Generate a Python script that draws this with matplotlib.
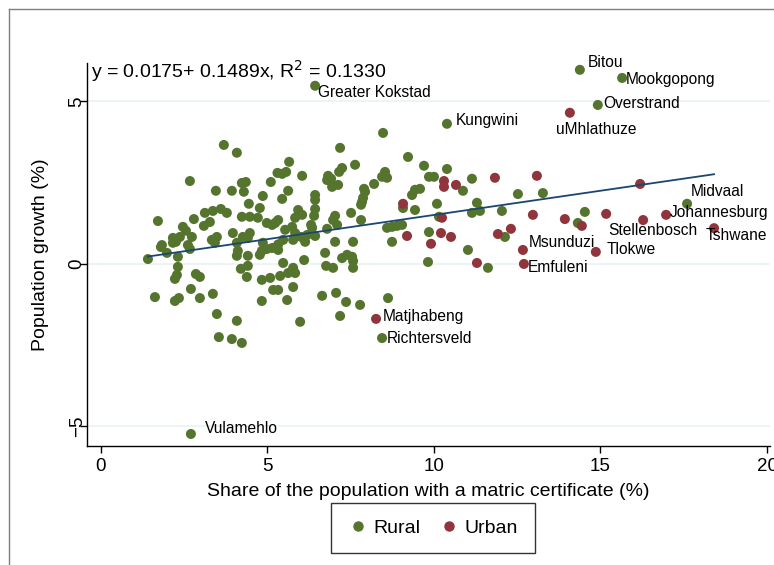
import matplotlib
matplotlib.use("Agg")
import matplotlib.pyplot as plt
from matplotlib.lines import Line2D
import numpy as np

plt.rcParams['font.family'] = ['Liberation Sans', 'DejaVu Sans']

# ---- data ----
rural_x = [3.69, 4.08, 2.67, 3.45, 3.93, 4.23, 4.35, 4.29, 5.10, 5.30, 4.86, 4.44, 4.77, 4.71, 4.47, 4.23, 4.98,
           3.12, 3.36, 3.60, 3.78, 2.79, 3.27, 3.09, 1.71, 2.46, 2.55, 2.16, 2.37, 2.73, 3.33, 3.48, 3.96, 4.26,
           4.41, 1.83,
           8.47, 7.18, 9.22, 5.65, 7.63, 5.56, 5.44, 6.04, 7.24, 7.15, 8.53, 8.44, 8.59, 6.82, 6.91, 6.79, 6.94,
           7.12, 8.20, 5.62, 5.44, 6.43, 6.43, 7.90, 7.93, 7.87, 7.84, 7.81, 9.34, 9.43, 9.07, 9.43, 7.51, 5.92,
           6.04, 5.83, 6.43, 6.40, 7.03, 6.97, 7.09, 7.81, 5.32, 5.23, 6.31, 6.34, 5.74, 5.53, 6.79, 8.59, 8.74,
           8.89, 9.04, 8.74, 5.83, 6.01, 6.19, 6.43, 7.03, 7.57, 5.77, 6.13,
           9.70, 10.39, 9.85, 10.00, 10.87, 11.14, 9.58, 10.09, 11.29, 11.14, 11.38, 12.04, 12.52, 13.27, 10.15,
           9.85, 12.13, 14.53, 14.32, 17.60, 14.38, 15.65, 14.92, 10.39, 6.43, 11.02, 9.82, 11.62, 8.44, 2.70,
           1.80, 1.98, 1.41, 2.16, 2.25, 2.61, 2.67, 2.31, 2.31, 2.28, 2.22, 2.85, 2.97, 2.70, 1.62, 2.22, 2.34,
           2.97, 3.36, 3.48, 4.08, 3.54, 3.93, 4.23, 3.42, 4.11, 4.08, 4.41, 4.20, 4.41, 4.38, 4.83, 4.98, 4.77,
           4.83, 5.08, 4.83, 5.17,
           5.32, 5.47, 5.77, 5.83, 5.62, 5.38, 5.32, 5.59, 5.77, 6.10, 6.73, 6.76, 6.97, 7.24, 7.39, 7.54, 7.57,
           7.57, 6.64, 7.06, 7.36, 7.78, 8.62, 5.98, 7.18,
           4.08, 4.47, 4.86, 5.14, 5.32, 5.47, 5.14]
rural_y = [3.66, 3.42, 2.55, 2.25, 2.25, 2.49, 2.52, 2.22, 2.52, 2.80, 2.09, 1.85, 1.72, 1.42, 1.45, 1.45, 1.26,
           1.57, 1.63, 1.69, 1.57, 1.38, 1.29, 1.17, 1.32, 1.14, 1.02, 0.80, 0.83, 0.83, 0.74, 0.83, 0.95, 0.83,
           0.80, 0.58,
           4.03, 3.57, 3.29, 3.14, 3.05, 2.83, 2.77, 2.71, 2.95, 2.83, 2.83, 2.68, 2.65, 2.71, 2.62, 2.58, 2.37,
           2.43, 2.46, 2.25, 2.00, 2.12, 1.97, 2.31, 2.22, 2.03, 1.91, 1.82, 2.12, 2.28, 1.72, 1.66, 1.57, 1.66,
           1.51, 1.42, 1.69, 1.48, 1.48, 1.35, 1.20, 1.35, 1.35, 1.26, 1.20, 1.11, 1.14, 1.05, 1.08, 1.11, 1.14,
           1.17, 1.20, 0.68, 0.95, 0.83, 0.89, 0.86, 0.68, 0.68, 0.74, 0.68,
           3.02, 2.92, 2.68, 2.68, 2.25, 2.62, 2.31, 1.85, 1.88, 1.57, 1.63, 1.63, 2.15, 2.18, 1.45,
           0.98, 0.83, 1.60, 1.26, 1.85, 5.97, 5.72, 4.89, 4.31, 5.48, 0.43, 0.06, -0.12, -2.28, -5.23,
           0.52, 0.34, 0.15, 0.65, 0.68, 0.58, 0.46, 0.22, -0.09, -0.34, -0.46, -0.31, -0.40, -0.77, -1.02, -1.14,
           -1.05, -1.05, -0.92, -1.54, -1.75, -2.25, -2.31, -2.43, 0.65, 0.40, 0.25, 0.25, -0.15, -0.06, -0.40,
           0.40, 0.46, 0.28, -0.49, -0.43, -1.14, -0.80,
           0.43, 0.03, -0.12, -0.28, -0.28, -0.37, -0.80, -1.11, -0.71, 0.12, 0.34, -0.06, -0.12, 0.18, 0.28,
           0.22, 0.09, -0.12, -0.98, -0.89, -1.17, -1.26, -1.05, -1.78, -1.60,
           0.65, 0.95, 0.65, 0.49, 0.60, 0.74, 1.20]

urban_x = [14.08, 9.07, 9.19, 10.30, 10.30, 10.66, 11.83, 13.09, 10.24, 12.97, 13.93, 10.21, 10.51, 9.91,
           11.92, 12.31, 16.19, 16.28, 16.97, 18.41, 15.17, 14.44, 11.29, 12.67, 12.70, 14.86, 8.26]
urban_y = [4.65, 1.85, 0.86, 2.55, 2.37, 2.43, 2.65, 2.71, 1.42, 1.51, 1.38, 0.95, 0.83, 0.62,
           0.92, 1.08, 2.46, 1.35, 1.51, 1.10, 1.54, 1.17, 0.03, 0.43, 0.00, 0.37, -1.69]

label_names = ["Bitou", "Mookgopong", "Overstrand", "uMhlathuze", "Kungwini", "Greater Kokstad",
               "Midvaal", "Johannesburg", "Stellenbosch", "Tshwane", "Tlokwe", "Msunduzi",
               "Emfuleni", "Matjhabeng", "Richtersveld", "Vulamehlo"]
label_x = [14.38, 15.65, 14.92, 14.08, 10.39, 6.43, 17.60, 16.97, 16.28, 18.41, 14.86, 12.67,
           12.70, 8.26, 8.44, 2.70]
label_y = [5.97, 5.72, 4.89, 4.65, 4.31, 5.48, 1.85, 1.51, 1.35, 1.10, 0.37, 0.43,
           0.00, -1.69, -2.28, -5.23]
label_offsets = [(8, 7), (4, -2), (5, 1), (-14, -17), (9, 3), (3, -7), (4, 12), (4, 2), (-35, -10),
                 (-8, -7), (11, 2), (6, 7), (4, -4), (7, 2), (5, 0), (14, 5)]

fit_intercept = 0.0175
fit_slope = 0.1489
fit_r2 = 0.1330

x_ticks = [0, 5, 10, 15, 20]
y_ticks = [-5, 0, 5]

GREEN = "#55752F"
RED = "#90353B"
NAVY = "#1A476F"
GRID = "#EAF2F3"

W, H = 774, 565
fig = plt.figure(figsize=(W / 100, H / 100), dpi=100)
ax = fig.add_axes([87 / W, 1 - 446 / H, (770 - 87) / W, (446 - 63) / H])

for yv in y_ticks:
    ax.axhline(yv, color=GRID, lw=1.2, zorder=0)

ax.scatter(rural_x, rural_y, s=52, color=GREEN, edgecolors='none', zorder=2, label="Rural")
ax.scatter(urban_x, urban_y, s=52, color=RED, edgecolors='none', zorder=2, label="Urban")

all_x = np.array(rural_x + urban_x)
xs = np.array([all_x.min(), all_x.max()])
ax.plot(xs, fit_intercept + fit_slope * xs, color=NAVY, lw=1.3, zorder=3)

for name, lx, ly, off in zip(label_names, label_x, label_y, label_offsets):
    ax.annotate(name, (lx, ly), xytext=off, textcoords='offset pixels', ha='left', va='center',
                fontsize=11.2, color='black', zorder=4)

ax.set_xlim(-0.42, 20.09)
ax.set_ylim(-5.6, 6.18)
ax.set_xticks(x_ticks)
ax.set_yticks(y_ticks)
ax.tick_params(axis='both', direction='out', length=5, width=1, labelsize=13.5, colors='black')
ax.tick_params(axis='y', pad=-4)
for lab in ax.get_yticklabels():
    lab.set_rotation(90)
    lab.set_va('center')
ax.spines['top'].set_visible(False)
ax.spines['right'].set_visible(False)
ax.spines['left'].set_linewidth(1)
ax.spines['bottom'].set_linewidth(1)

ax.set_xlabel("Share of the population with a matric certificate (%)", fontsize=14, labelpad=6)
ax.set_ylabel("Population growth (%)", fontsize=14, labelpad=14)

fig.text(91 / W, 1 - 71 / H, "y = %.4f+ %.4fx, R$^2$ = %.4f" % (fit_intercept, fit_slope, fit_r2),
         fontsize=14, ha='left', va='center')

leg = fig.legend(handles=[Line2D([], [], marker='o', ls='none', color=GREEN, markersize=6.5, label="Rural"),
                          Line2D([], [], marker='o', ls='none', color=RED, markersize=6.5, label="Urban")],
                 loc='center', bbox_to_anchor=(433 / W, 1 - 528 / H), ncol=2, fontsize=14,
                 frameon=True, fancybox=False, edgecolor='black', handletextpad=0.3,
                 columnspacing=1.0, handlelength=1.0, borderpad=0.85)
leg.get_frame().set_linewidth(1)

# outer frame
fig.add_artist(Line2D([9 / W, 9 / W], [0, 1 - 8.5 / H], color='#7f7f7f', lw=1, transform=fig.transFigure))
fig.add_artist(Line2D([9 / W, 1], [1 - 8.5 / H, 1 - 8.5 / H], color='#7f7f7f', lw=1, transform=fig.transFigure))

fig.savefig("out.png", dpi=100)
